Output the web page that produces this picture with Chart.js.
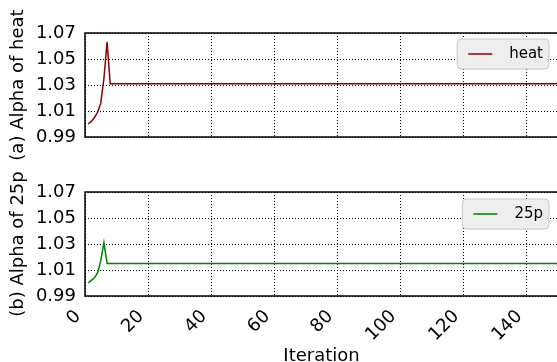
<!DOCTYPE html>
<html>
<head>
<meta charset="utf-8">
<script src="https://cdn.jsdelivr.net/npm/chart.js@4"></script>
<style>
  html, body { margin: 0; padding: 0; background: #fff; overflow: hidden; }
  #wrap { position: relative; width: 557px; height: 362px; overflow: hidden; }
  #top { position: absolute; left: 0; top: 0; }
  #bottom { position: absolute; left: 0; top: 165px; }
</style>
</head>
<body>
<div id="wrap">
  <canvas id="top" width="560" height="165"></canvas>
  <canvas id="bottom" width="560" height="205"></canvas>
</div>
<script>
// data
const heatX = [1, 2, 3, 4, 5, 6, 7, 8, 160];
const heatY = [1.000, 1.002, 1.005, 1.009, 1.016, 1.035, 1.063, 1.031, 1.031];
const p25X = [1, 2, 3, 4, 5, 6, 7, 160];
const p25Y = [1.000, 1.002, 1.004, 1.008, 1.017, 1.031, 1.015, 1.015];
const xTicks = [0, 20, 40, 60, 80, 100, 120, 140];
const yTicks = [0.99, 1.01, 1.03, 1.05, 1.07];

const FONT = 'DejaVu Sans';

const framePlugin = {
    id: 'frame',
    afterDatasetsDraw(chart) {
        const {ctx, chartArea: a} = chart;
        ctx.save();
        ctx.strokeStyle = '#000';
        ctx.lineWidth = 1.5;
        ctx.strokeRect(a.left, a.top, a.right - a.left, a.bottom - a.top);
        ctx.restore();
    }
};

// matplotlib-like legend box in the upper right corner
const boxLegend = {
    id: 'boxLegend',
    afterDraw(chart, args, opts) {
        const {ctx, chartArea: a} = chart;
        const ds = chart.data.datasets[0];
        ctx.save();
        ctx.font = '15px "' + FONT + '"';
        const tw = ctx.measureText(ds.label).width;
        const w = 11 + 24 + 17 + tw + 6;
        const h = 30;
        const x = 549 - w;
        const y = a.top + opts.dy;
        ctx.beginPath();
        ctx.roundRect(x, y, w, h, 4);
        ctx.fillStyle = '#eeeeee';
        ctx.fill();
        ctx.strokeStyle = '#c8c8c8';
        ctx.lineWidth = 1;
        ctx.stroke();
        ctx.beginPath();
        ctx.moveTo(x + 11, y + h / 2);
        ctx.lineTo(x + 35, y + h / 2);
        ctx.strokeStyle = ds.borderColor;
        ctx.lineWidth = 1.5;
        ctx.stroke();
        ctx.fillStyle = '#000';
        ctx.textBaseline = 'middle';
        ctx.fillText(ds.label, x + 52, y + h / 2);
        ctx.restore();
    }
};

function makeChart(id, label, xs, ys, color, yTitle, isBottom) {
    const ctx = document.getElementById(id).getContext('2d');
    const canvasH = isBottom ? 205 : 165;
    const padTop = isBottom ? 27 : 33;
    return new Chart(ctx, {
        type: 'line',
        data: {
            datasets: [{
                label: label,
                data: xs.map((x, i) => ({x: x, y: ys[i]})),
                borderColor: color,
                borderWidth: 1.5,
                pointRadius: 0,
                tension: 0,
                fill: false
            }]
        },
        options: {
            responsive: false,
            animation: false,
            devicePixelRatio: 1,
            layout: {padding: {top: padTop, left: 0, right: 2, bottom: 0}},
            plugins: {
                legend: {display: false},
                tooltip: {enabled: false},
                boxLegend: {dy: isBottom ? 7 : 6}
            },
            scales: {
                x: {
                    type: 'linear',
                    min: 0,
                    max: 150,
                    afterBuildTicks: s => { s.ticks = xTicks.map(v => ({value: v})); },
                    afterFit: s => { s.height = canvasH - padTop - 104; },
                    grid: {color: '#000', lineWidth: 1, drawTicks: false},
                    border: {display: false, dash: [1, 2]},
                    ticks: {
                        display: isBottom,
                        color: '#000',
                        font: {family: FONT, size: 18},
                        minRotation: 45,
                        maxRotation: 45,
                        padding: 10,
                        labelOffset: -7
                    },
                    title: {
                        display: isBottom,
                        text: 'Iteration',
                        color: '#000',
                        font: {family: FONT, size: 18},
                        padding: {top: 0, bottom: 3}
                    }
                },
                y: {
                    min: 0.99,
                    max: 1.07,
                    afterBuildTicks: s => { s.ticks = yTicks.map(v => ({value: v})); },
                    afterFit: s => { s.width = 85; },
                    grid: {color: '#000', lineWidth: 1, drawTicks: false},
                    border: {display: false, dash: [1, 2]},
                    ticks: {
                        color: '#000',
                        font: {family: FONT, size: 18},
                        padding: 9,
                        callback: v => v.toFixed(2)
                    },
                    title: {
                        display: true,
                        text: yTitle,
                        color: '#000',
                        font: {family: FONT, size: 18},
                        padding: {top: 8, bottom: 0}
                    }
                }
            }
        },
        plugins: [framePlugin, boxLegend]
    });
}

makeChart('top', 'heat', heatX, heatY, '#8b0000', '(a) Alpha of heat', false);
makeChart('bottom', '25p', p25X, p25Y, '#008000', '(b) Alpha of 25p', true);
</script>
</body>
</html>
